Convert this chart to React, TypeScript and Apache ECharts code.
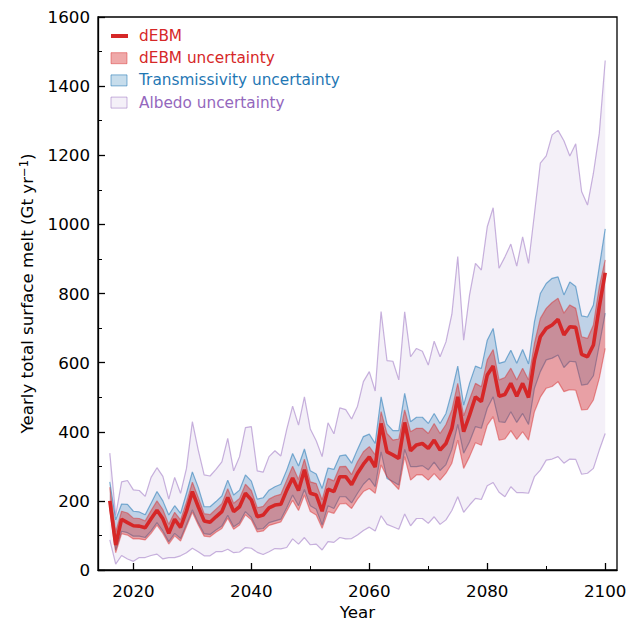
import React, { useEffect, useRef } from "react";
import * as echarts from "echarts";

const startYear = 2016;
const endYear = 2100;
const years: number[] = [];
for (let y = startYear; y <= endYear; y++) years.push(y);

const xMajorTicks = [2020, 2040, 2060, 2080, 2100];
const xMinorTicks = [2030, 2050, 2070, 2090];

// dEBM central estimate (Gt/yr)
const dEBM = [
  200, 72, 147, 137, 128, 127, 122, 148, 173, 148,
  106, 147, 123, 170, 227, 183, 142, 138, 154, 169,
  210, 169, 183, 222, 203, 154, 159, 180, 188, 190,
  231, 266, 230, 290, 222, 217, 170, 234, 227, 270,
  270, 247, 280, 306, 327, 298, 424, 342, 333, 323,
  427, 345, 362, 366, 352, 376, 347, 366, 410, 501,
  400, 448, 501, 487, 564, 590, 503, 508, 540, 503,
  540, 499, 608, 675, 699, 709, 725, 680, 704, 702,
  624, 617, 651, 762, 860,
];

// dEBM uncertainty bounds
const dEBMHigh = [
  240, 110, 170, 165, 150, 149, 142, 172, 200, 175,
  132, 167, 145, 196, 254, 210, 163, 160, 176, 192,
  235, 193, 207, 248, 230, 180, 184, 205, 214, 219,
  260, 300, 262, 321, 255, 250, 203, 265, 258, 299,
  300, 276, 313, 342, 357, 333, 458, 395, 376, 379,
  463, 400, 410, 410, 395, 424, 395, 421, 463, 540,
  446, 494, 540, 530, 608, 638, 550, 557, 584, 550,
  584, 550, 656, 728, 757, 774, 786, 743, 767, 757,
  675, 670, 709, 820, 897,
];
const dEBMLow = [
  175, 50, 105, 101, 90, 90, 87, 106, 130, 106,
  75, 99, 84, 125, 167, 130, 98, 96, 109, 120,
  150, 118, 130, 160, 145, 110, 113, 129, 134, 139,
  170, 202, 172, 217, 169, 159, 121, 169, 164, 191,
  193, 178, 205, 227, 236, 222, 304, 270, 251, 233,
  328, 260, 275, 275, 260, 279, 260, 280, 309, 376,
  294, 328, 368, 361, 419, 444, 376, 379, 403, 378,
  400, 376, 458, 500, 526, 531, 545, 516, 522, 520,
  463, 465, 492, 555, 641,
];

// Transmissivity uncertainty bounds
const transHigh = [
  255, 145, 191, 190, 170, 168, 160, 193, 227, 200,
  159, 186, 164, 222, 284, 239, 183, 183, 198, 214,
  260, 217, 231, 275, 257, 205, 209, 231, 241, 248,
  289, 337, 301, 350, 287, 278, 236, 295, 291, 330,
  333, 309, 349, 386, 393, 366, 501, 422, 403, 403,
  511, 429, 442, 442, 424, 453, 424, 453, 516, 590,
  477, 540, 590, 583, 665, 699, 598, 603, 636, 598,
  638, 596, 718, 800, 829, 844, 848, 796, 833, 820,
  735, 732, 767, 878, 987,
];
const transLow = [
  185, 58, 112, 108, 98, 98, 94, 113, 137, 113,
  82, 106, 91, 132, 174, 137, 105, 103, 116, 127,
  158, 125, 137, 169, 152, 118, 120, 137, 142, 147,
  180, 217, 186, 233, 186, 176, 130, 186, 178, 212,
  212, 194, 222, 248, 265, 241, 342, 265, 256, 246,
  349, 299, 299, 302, 290, 312, 288, 305, 349, 421,
  338, 371, 415, 410, 468, 501, 429, 427, 458, 427,
  453, 421, 526, 574, 608, 613, 622, 586, 604, 602,
  535, 538, 562, 651, 743,
];

// Albedo uncertainty bounds
const albedoHigh = [
  338, 158, 255, 259, 232, 230, 213, 268, 296, 271,
  205, 268, 222, 294, 429, 347, 275, 272, 291, 313,
  381, 287, 328, 412, 415, 287, 283, 328, 345, 330,
  407, 474, 419, 501, 408, 374, 328, 426, 394, 469,
  464, 437, 474, 545, 574, 518, 748, 606, 604, 550,
  747, 617, 641, 633, 593, 662, 617, 660, 740, 907,
  665, 796, 887, 868, 993, 1048, 873, 906, 943, 879,
  964, 887, 1030, 1177, 1198, 1259, 1272, 1242, 1198, 1233,
  1095, 1056, 1148, 1264, 1474,
];
const albedoLow = [
  87, 17, 42, 32, 25, 36, 36, 42, 46, 32,
  36, 36, 41, 50, 63, 53, 41, 41, 53, 53,
  60, 50, 52, 65, 63, 51, 45, 53, 62, 61,
  65, 90, 75, 94, 73, 75, 58, 82, 80, 94,
  90, 91, 101, 114, 124, 113, 157, 132, 125, 118,
  162, 128, 149, 149, 135, 154, 132, 145, 172, 212,
  167, 188, 207, 204, 244, 253, 225, 212, 241, 224,
  224, 222, 270, 289, 318, 321, 328, 309, 321, 320,
  277, 280, 294, 347, 395,
];

const RED = "#d62728";
const BLUE = "#1f77b4";
const PURPLE = "#9467bd";
const FONT = "DejaVu Sans";

const bands = [
  {
    key: "albedo",
    lo: albedoLow,
    hi: albedoHigh,
    fill: "rgba(148,103,189,0.1)",
    edge: "rgba(148,103,189,0.5)",
  },
  {
    key: "trans",
    lo: transLow,
    hi: transHigh,
    fill: "rgba(31,119,180,0.25)",
    edge: "rgba(31,119,180,0.55)",
  },
  {
    key: "debm",
    lo: dEBMLow,
    hi: dEBMHigh,
    fill: "rgba(214,39,40,0.4)",
    edge: "rgba(214,39,40,0.45)",
  },
];

function buildSeries(): any[] {
  const out: any[] = [];
  bands.forEach((b, bi) => {
    out.push({
      type: "custom",
      name: b.key + "Fill",
      silent: true,
      z: 2 + bi * 2,
      data: years.map((y, i) => [y, b.lo[i], b.hi[i]]),
      encode: { x: 0, y: [1, 2] },
      renderItem: (params: any, api: any) => {
        if (params.dataIndex !== 0) return null;
        const pts: number[][] = [];
        for (let i = 0; i < years.length; i++) pts.push(api.coord([years[i], b.hi[i]]));
        for (let i = years.length - 1; i >= 0; i--) pts.push(api.coord([years[i], b.lo[i]]));
        return {
          type: "polygon",
          shape: { points: pts },
          style: { fill: b.fill, stroke: "none" },
        };
      },
    });
    [b.lo, b.hi].forEach((arr, k) => {
      out.push({
        type: "line",
        name: b.key + (k === 0 ? "Low" : "High"),
        silent: true,
        z: 3 + bi * 2,
        showSymbol: false,
        symbol: "none",
        data: years.map((y, i) => [y, arr[i]]),
        lineStyle: { color: b.edge, width: 1.2 },
      });
    });
  });
  out.push({
    type: "line",
    name: "dEBM",
    silent: true,
    z: 20,
    showSymbol: false,
    symbol: "none",
    data: years.map((y, i) => [y, dEBM[i]]),
    lineStyle: { color: RED, width: 3.6 },
  });
  return out;
}

const legendRows = [
  { label: "dEBM", color: RED, kind: "line", fill: RED, stroke: RED },
  { label: "dEBM uncertainty", color: RED, kind: "rect", fill: "rgba(214,39,40,0.4)", stroke: "rgba(214,39,40,0.45)" },
  { label: "Transmissivity uncertainty", color: BLUE, kind: "rect", fill: "rgba(31,119,180,0.25)", stroke: "rgba(31,119,180,0.55)" },
  { label: "Albedo uncertainty", color: PURPLE, kind: "rect", fill: "rgba(148,103,189,0.1)", stroke: "rgba(148,103,189,0.5)" },
];

function buildLegend(): any[] {
  const els: any[] = [];
  legendRows.forEach((r, i) => {
    const cy = 36 + i * 22.2;
    if (r.kind === "line") {
      els.push({
        type: "line",
        shape: { x1: 111, y1: cy, x2: 128, y2: cy },
        style: { stroke: r.stroke, lineWidth: 4 },
        z: 100,
      });
    } else {
      els.push({
        type: "rect",
        shape: { x: 111, y: cy - 5.5, width: 16, height: 11 },
        style: { fill: r.fill, stroke: r.stroke, lineWidth: 1 },
        z: 100,
      });
    }
    els.push({
      type: "text",
      x: 139,
      y: cy,
      z: 100,
      style: {
        text: r.label,
        fill: r.color,
        font: `15.3px '${FONT}'`,
        textVerticalAlign: "middle",
        verticalAlign: "middle",
        textAlign: "left",
      },
    });
  });
  return els;
}

export default function App() {
  const ref = useRef<HTMLDivElement>(null);
  useEffect(() => {
    document.body.style.margin = "0";
    const chart = echarts.init(ref.current!, null, { renderer: "svg" });
    const axisLineStyle = { color: "#000", width: 1.3 };
    const plain = (v: number) => String(v);
    chart.setOption({
      animation: false,
      backgroundColor: "#fff",
      textStyle: { fontFamily: FONT },
      grid: {
        left: 98,
        top: 17,
        width: 519,
        height: 553,
        show: true,
        borderColor: "#000",
        borderWidth: 1.3,
        backgroundColor: "transparent",
        outerBoundsMode: "none",
        containLabel: false,
      },
      xAxis: [
        {
          type: "value",
          min: 2014,
          max: 2102,
          position: "bottom",
          name: "Year",
          nameLocation: "middle",
          nameGap: 33,
          nameTextStyle: { fontSize: 16.7, color: "#000", fontFamily: FONT },
          axisLine: { show: true, lineStyle: axisLineStyle },
          axisTick: {
            show: true,
            inside: true,
            length: 7,
            customValues: xMajorTicks,
            lineStyle: axisLineStyle,
          },
          axisLabel: {
            customValues: xMajorTicks,
            formatter: plain,
            fontSize: 16.7,
            color: "#000",
            margin: 12,
            fontFamily: FONT,
          },
          splitLine: { show: false },
        },
        {
          type: "value",
          min: 2014,
          max: 2102,
          position: "bottom",
          axisLine: { show: false },
          axisTick: {
            show: true,
            inside: true,
            length: 4,
            customValues: xMinorTicks,
            lineStyle: { color: "#000", width: 1 },
          },
          axisLabel: { show: false },
          splitLine: { show: false },
        },
      ],
      yAxis: {
        type: "value",
        min: 0,
        max: 1600,
        interval: 200,
        name: "Yearly total surface melt (Gt yr{sup|\u22121})",
        nameLocation: "middle",
        nameGap: 62,
        nameRotate: 90,
        nameTextStyle: {
          fontSize: 16.7,
          color: "#000",
          fontFamily: FONT,
          rich: {
            sup: { fontSize: 11.5, color: "#000", fontFamily: FONT, verticalAlign: "top", padding: [0, 0, 6, 0] },
          },
        },
        axisLine: { show: true, lineStyle: axisLineStyle },
        axisTick: { show: true, inside: true, length: 7, lineStyle: axisLineStyle },
        minorTick: { show: true, splitNumber: 2, length: 4, lineStyle: { color: "#000", width: 1 } },
        axisLabel: { fontSize: 16.7, color: "#000", margin: 8, fontFamily: FONT, formatter: plain },
        splitLine: { show: false },
        minorSplitLine: { show: false },
      },
      graphic: buildLegend(),
      series: buildSeries(),
    });
    return () => chart.dispose();
  }, []);
  return <div ref={ref} style={{ width: 626, height: 622 }} />;
}
